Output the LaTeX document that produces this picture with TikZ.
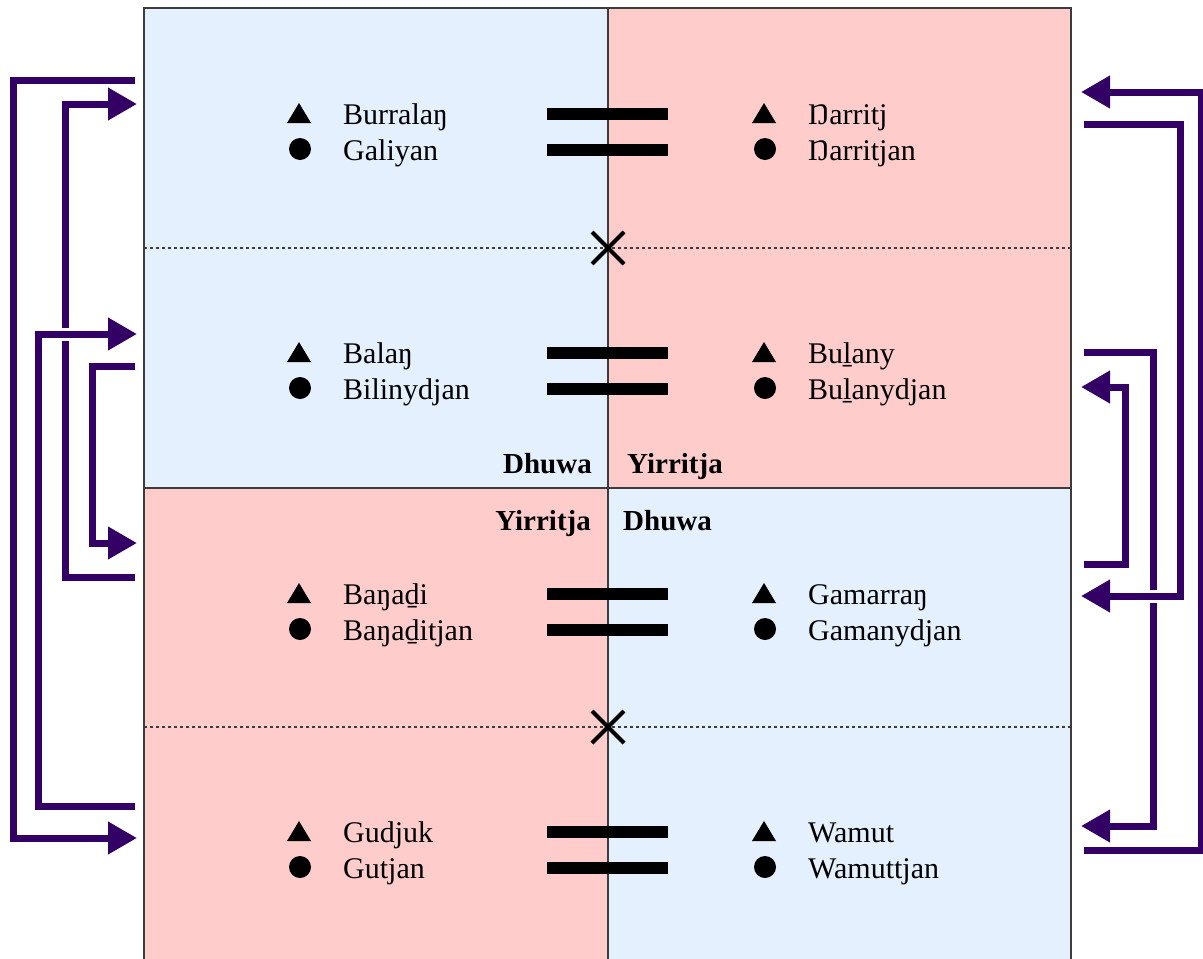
\documentclass[tikz,border=0pt]{standalone}
\usepackage{fontspec}
\setmainfont{Liberation Serif}
\usetikzlibrary{arrows.meta}

\definecolor{dhuwablue}{RGB}{229,240,254}
\definecolor{yirrpink}{RGB}{255,204,204}
\definecolor{kinpurple}{RGB}{51,0,102}
\definecolor{framegray}{RGB}{60,60,60}

\tikzset{
  skin/.style={anchor=base west, inner sep=0pt, font=\fontsize{30}{36}\selectfont},
  moietyL/.style={anchor=base east, inner sep=0pt, font=\fontsize{29}{34}\selectfont\bfseries},
  moietyR/.style={anchor=base west, inner sep=0pt, font=\fontsize{29}{34}\selectfont\bfseries},
  kin/.style={draw=kinpurple, line width=7pt, line join=miter,
    -{Triangle[length=29pt,width=31pt]}},
  kinover/.style={kin, preaction={draw=white, line width=13pt, -}},
  equalbar/.style={line width=12pt},
  cross/.style={line width=4pt},
  divider/.style={draw=framegray, line width=1.5pt},
  dotline/.style={draw=framegray, line width=1.2pt, dash pattern=on 2.5pt off 3.5pt},
}

% one pair of skin groups: symbols, names and the marriage bars
% #1 vertical offset, #2 node prefix, #3/#4 left names, #5/#6 right names
\newcommand\kinrow[6]{%
  \fill (287,#1+123) -- (311,#1+123) -- (299,#1+103) -- cycle;
  \fill (300,#1+149) circle[radius=11];
  \fill (752,#1+123) -- (776,#1+123) -- (764,#1+103) -- cycle;
  \fill (765,#1+149) circle[radius=11];
  \node[skin] (#2-lm) at (343,#1+124) {#3};
  \node[skin] (#2-lf) at (343,#1+160) {#4};
  \node[skin] (#2-rm) at (808,#1+124) {#5};
  \node[skin] (#2-rf) at (808,#1+160) {#6};
  \draw[equalbar] (547,#1+114) -- (668,#1+114);
  \draw[equalbar] (547,#1+150) -- (668,#1+150);
}

\begin{document}
\begin{tikzpicture}[x=1pt,y=-1pt]
\useasboundingbox (0,0) rectangle (1203,959);

% moiety quadrants
\fill[dhuwablue] (144,8) rectangle (608,488);
\fill[yirrpink] (608,8) rectangle (1071,488);
\fill[yirrpink] (144,488) rectangle (608,959);
\fill[dhuwablue] (608,488) rectangle (1071,959);

% dotted separators between the pairs
\draw[dotline] (144,248) -- (1071,248);
\draw[dotline] (144,727) -- (1071,727);

% frame and dividers
\draw[divider] (144,959) -- (144,8) -- (1071,8) -- (1071,959);
\draw[divider] (144,488) -- (1071,488);
\draw[divider] (608,8) -- (608,959);

% crosses on the dotted separators
\draw[cross] (592,232) -- (624,264) (592,264) -- (624,232);
\draw[cross] (592,711) -- (624,743) (592,743) -- (624,711);

% skin groups
\kinrow{0}{r1}{Burralaŋ}{Galiyan}{Ŋarritj}{Ŋarritjan}
\kinrow{239}{r2}{Balaŋ}{Bilinydjan}{Buḻany}{Buḻanydjan}
\kinrow{480}{r3}{Baŋaḏi}{Baŋaḏitjan}{Gamarraŋ}{Gamanydjan}
\kinrow{718}{r4}{Gudjuk}{Gutjan}{Wamut}{Wamuttjan}

% moiety labels
\node[moietyL] (dhuwaU) at (592,473) {Dhuwa};
\node[moietyR] (yirrU) at (627,473) {Yirritja};
\node[moietyL] (yirrL) at (591,530) {Yirritja};
\node[moietyR] (dhuwaL) at (623,530) {Dhuwa};

% end points of the cycles on the left
\coordinate (A0) at (135,80);  \coordinate (A1) at (137,838); \coordinate (laneA) at (13,0);
\coordinate (B0) at (135,577); \coordinate (B1) at (137,104); \coordinate (laneB) at (65,0);
\coordinate (C0) at (135,806); \coordinate (C1) at (137,334); \coordinate (laneC) at (38,0);
\coordinate (D0) at (135,366); \coordinate (D1) at (137,543); \coordinate (laneD) at (92,0);

% end points of the cycles on the right
\coordinate (E0) at (1084,850); \coordinate (E1) at (1081,92);  \coordinate (laneE) at (1201,0);
\coordinate (F0) at (1084,124); \coordinate (F1) at (1081,596); \coordinate (laneF) at (1180,0);
\coordinate (G0) at (1084,352); \coordinate (G1) at (1081,826); \coordinate (laneG) at (1153,0);
\coordinate (H0) at (1084,564); \coordinate (H1) at (1081,387); \coordinate (laneH) at (1125,0);

% left cycles
\draw[kin] (A0) -| (laneA |- A1) -- (A1);
\draw[kin] (B0) -| (laneB |- B1) -- (B1);
\draw[kin] (D0) -| (laneD |- D1) -- (D1);
\draw[kinover] (C0) -| (laneC |- C1) -- (C1);

% right cycles
\draw[kin] (E0) -| (laneE |- E1) -- (E1);
\draw[kin] (G0) -| (laneG |- G1) -- (G1);
\draw[kin] (H0) -| (laneH |- H1) -- (H1);
\draw[kinover] (F0) -| (laneF |- F1) -- (F1);
\end{tikzpicture}
\end{document}
